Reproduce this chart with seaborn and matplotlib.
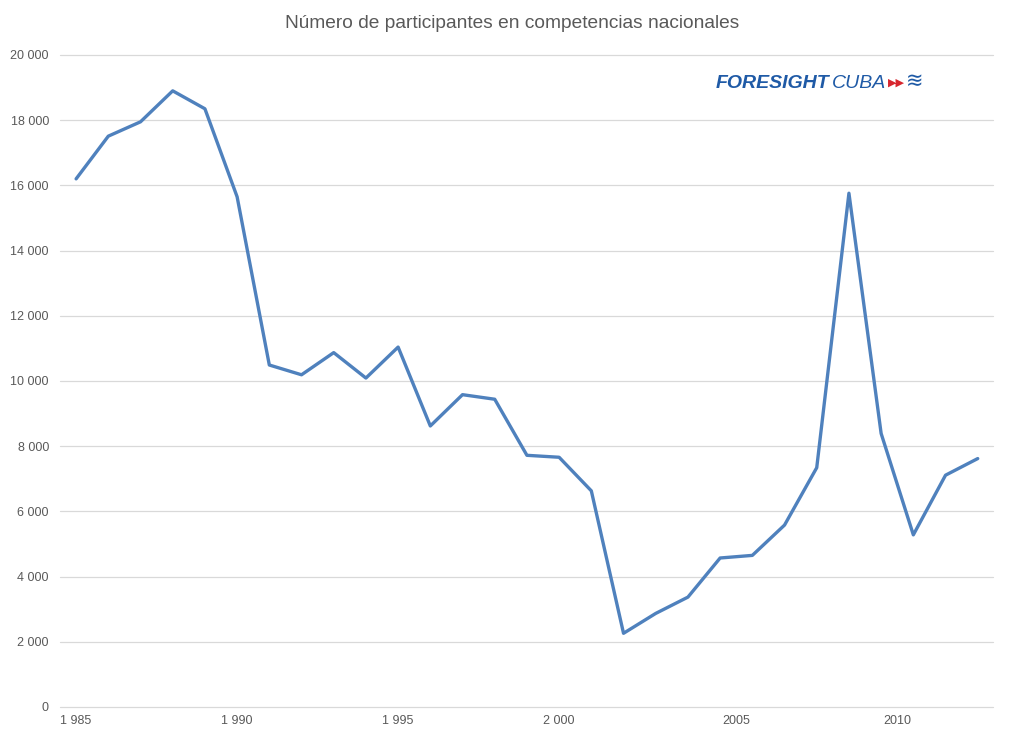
import matplotlib
matplotlib.use("Agg")
import matplotlib.pyplot as plt
import seaborn as sns
import pandas as pd

# valores
years = list(range(1985, 2014))
participants = [16200, 17510, 17950, 18900, 18350, 15650, 10490, 10190, 10870, 10090,
                11040, 8620, 9580, 9440, 7720, 7660, 6630, 2260, 2870, 3370,
                4570, 4650, 5580, 7340, 15760, 8390, 5280, 7110, 7620]

y_ticks = list(range(0, 20001, 2000))
x_tick_pos = [1985, 1990, 1995, 2000, 2005.5, 2010.5]
x_tick_labels = ["1 985", "1 990", "1 995", "2 000", "2005", "2010"]

title = "Número de participantes en competencias nacionales"

df = pd.DataFrame({"year": years, "participants": participants})

sns.set_style("white")
plt.rcParams['font.family'] = ['Liberation Sans', 'DejaVu Sans']

fig = plt.figure(figsize=(10.24, 7.42), dpi=100)
ax = fig.add_axes([0.0586, 0.0472, 0.911, 0.8787])

sns.lineplot(data=df, x="year", y="participants", ax=ax, color="#4F81BD", linewidth=2.4)

ax.set_xlim(1984.5, 2013.47)
ax.set_ylim(0, 20000)
ax.set_yticks(y_ticks)
ax.set_yticklabels([f"{v:,}".replace(",", " ") for v in y_ticks])
ax.set_xticks(x_tick_pos)
ax.set_xticklabels(x_tick_labels)
ax.tick_params(axis="both", length=0, labelsize=9, colors="#595959")
ax.tick_params(axis="y", pad=8)
ax.tick_params(axis="x", pad=6)
ax.grid(axis="y", color="#D9D9D9", linewidth=0.9)
for gl in ax.get_ygridlines():
    gl.set_clip_on(False)
ax.set_axisbelow(True)
for s in ax.spines.values():
    s.set_visible(False)
ax.set_xlabel("")
ax.set_ylabel("")

fig.text(0.5, 1 - 24 / 742, title, ha="center", va="center", fontsize=13.8, color="#595959")

# logo: FORESIGHT + CUBA + pequeño icono
logo_y = 1 - 83 / 742
t1 = fig.text(716 / 1024, logo_y, "FORESIGHT", ha="left", va="center", fontsize=14,
              fontweight="bold", style="italic", color="#1F5AA6")
fig.canvas.draw()
bb = t1.get_window_extent()
t2 = fig.text((bb.x1 + 2) / 1024, logo_y, "CUBA", ha="left", va="center", fontsize=14,
              style="italic", color="#1F5AA6")
fig.canvas.draw()
bb2 = t2.get_window_extent()
t3 = fig.text((bb2.x1 + 2) / 1024, logo_y, "▶▶", ha="left", va="center", fontsize=8,
              color="#D7262E", family=['DejaVu Sans'])
fig.canvas.draw()
bb3 = t3.get_window_extent()
fig.text((bb3.x1 + 1) / 1024, logo_y + 2 / 742, "≋", ha="left", va="center", fontsize=15,
         color="#1F5AA6", family=['DejaVu Sans'])

fig.savefig("out.png", dpi=100)
